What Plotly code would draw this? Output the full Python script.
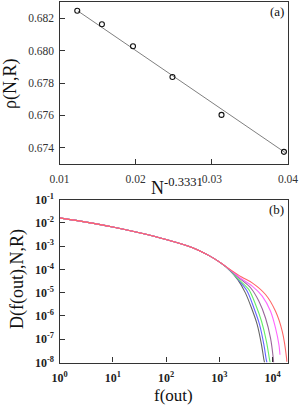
import numpy as np
import plotly.graph_objects as go

# ---- panel (a) data ----
n_pow = [0.01233, 0.01557, 0.01965, 0.02483, 0.03127, 0.03947]
rho = [0.68246, 0.68163, 0.68027, 0.67837, 0.67603, 0.67375]
fit_x = [0.0124, 0.0397]
fit_y = [0.68245, 0.67368]

# ---- panel (b) data (log10 values) ----
trunk_lx = [0.0, 0.5, 1.0, 1.5, 2.0, 2.5, 2.8, 3.0]
trunk_ly = [-1.79, -1.97, -2.18, -2.43, -2.72, -3.07, -3.40, -3.68]

gray_lx = [3.2, 3.35, 3.49, 3.605, 3.712, 3.793, 3.838, 3.85]
gray_ly = [-4.05, -4.45, -5.01, -5.66, -6.37, -7.24, -7.88, -8.0]
blue_lx = [3.2, 3.35, 3.524, 3.65, 3.756, 3.838, 3.882, 3.895]
blue_ly = [-4.04, -4.42, -4.94, -5.66, -6.37, -7.24, -7.88, -8.0]
green_lx = [3.2, 3.35, 3.556, 3.681, 3.793, 3.887, 3.944, 3.955]
green_ly = [-4.03, -4.40, -4.87, -5.51, -6.23, -7.11, -7.88, -8.0]
purple_lx = [3.2, 3.4, 3.587, 3.744, 3.868, 3.962, 4.013, 4.02]
purple_ly = [-4.02, -4.42, -4.79, -5.37, -6.09, -6.95, -7.81, -8.0]
magenta_lx = [3.2, 3.4, 3.618, 3.806, 3.962, 4.056, 4.120, 4.139]
magenta_ly = [-4.01, -4.38, -4.72, -5.15, -5.80, -6.52, -7.24, -7.67]
red_lx = [3.2, 3.42, 3.618, 3.868, 4.056, 4.182, 4.263, 4.268]
red_ly = [-4.00, -4.33, -4.58, -5.08, -5.80, -6.66, -7.81, -7.97]

curves = [
    ("#666666", gray_lx, gray_ly),
    ("#6464ff", blue_lx, blue_ly),
    ("#66ee66", green_lx, green_ly),
    ("#996699", purple_lx, purple_ly),
    ("#ff66ff", magenta_lx, magenta_ly),
    ("#ff6666", red_lx, red_ly),
]

xticks_a = [0.01, 0.02, 0.03, 0.04]
yticks_a = [0.674, 0.676, 0.678, 0.680, 0.682]
xticks_b_exp = [0, 1, 2, 3, 4]
yticks_b_exp = [-1, -2, -3, -4, -5, -6, -7, -8]

SERIF = "Liberation Serif, Times New Roman, serif"
W, H = 300, 408

fig = go.Figure()

fig.add_trace(go.Scatter(x=fit_x, y=fit_y, mode="lines",
                         line=dict(color="#808080", width=1),
                         xaxis="x", yaxis="y", showlegend=False))
fig.add_trace(go.Scatter(x=n_pow, y=rho, mode="markers",
                         marker=dict(symbol="circle-open", size=5,
                                     color="#111111", line=dict(width=1.1)),
                         xaxis="x", yaxis="y", showlegend=False))

for color, lx, ly in curves:
    xs = np.power(10.0, np.array(trunk_lx + lx))
    ys = np.power(10.0, np.array(trunk_ly + ly))
    fig.add_trace(go.Scatter(x=xs, y=ys, mode="lines",
                             line=dict(color=color, width=1.1, shape="spline",
                                       smoothing=0.8),
                             xaxis="x2", yaxis="y2", showlegend=False))

def fx(p):
    return p / W

def fy(p):
    return 1 - p / H

xl, xr = fx(59.5), fx(288.0)
ya = [fy(164.0), fy(2.0)]
yb = [fy(362.5), fy(199.5)]

axis_common = dict(showline=True, linecolor="#333333", linewidth=1.4,
                   mirror=True, ticks="inside", ticklen=5, tickwidth=1.2,
                   tickcolor="#333333", showgrid=False, zeroline=False,
                   automargin=False)

fig.update_layout(
    width=W, height=H,
    margin=dict(l=0, r=0, t=0, b=0),
    paper_bgcolor="white", plot_bgcolor="white",
    font=dict(family=SERIF, color="#222222"),
    xaxis=dict(domain=[xl, xr], anchor="y", range=[0.01, 0.04],
               tickvals=xticks_a, ticktext=[f"{v:.2f}" for v in xticks_a],
               tickfont=dict(size=11.5, family=SERIF, color="#333333"),
               ticklabelstandoff=4, **axis_common),
    yaxis=dict(domain=ya, anchor="x", range=[0.673, 0.683],
               tickvals=yticks_a, ticktext=[f"{v:.3f}" for v in yticks_a],
               tickfont=dict(size=11.5, family=SERIF, color="#333333"),
               ticklabelstandoff=2, **axis_common),
    xaxis2=dict(domain=[xl, xr], anchor="y2", type="log", range=[0, 4.29],
                tickvals=[10.0 ** e for e in xticks_b_exp],
                ticktext=[f"<b>10<sup>{e}</sup></b>" for e in xticks_b_exp],
                tickfont=dict(size=12, family=SERIF, color="#222222"),
                ticklabelstandoff=4, **axis_common),
    yaxis2=dict(domain=yb, anchor="x2", type="log", range=[-8, -1],
                tickvals=[10.0 ** e for e in yticks_b_exp],
                ticktext=[f"<b>10<sup>{e}</sup></b>" for e in yticks_b_exp],
                tickfont=dict(size=12, family=SERIF, color="#222222"),
                ticklabelstandoff=2, **axis_common),
)

def px_ann(text, x, y, size, angle=0, xanchor="center", yanchor="middle"):
    fig.add_annotation(text=text, x=fx(x), y=fy(y), xref="paper", yref="paper",
                       showarrow=False, textangle=angle, xanchor=xanchor,
                       yanchor=yanchor, font=dict(family=SERIF, size=size, color="#111111"))

px_ann("ρ(N,R)", 11, 84, 18, angle=-90)
px_ann("N<sup>-0.3331</sup>", 177, 187, 18)
px_ann("(a)", 286, 11, 13, xanchor="right")
px_ann("D(f(out),N,R)", 17, 279, 18, angle=-90)
px_ann("f(out)", 173, 395, 17)
px_ann("(b)", 286, 210, 13, xanchor="right")

fig.write_html("out.html",
               config={"displayModeBar": False},
               post_script="document.body.style.margin='0px';"
                           "document.body.style.overflow='hidden';")
